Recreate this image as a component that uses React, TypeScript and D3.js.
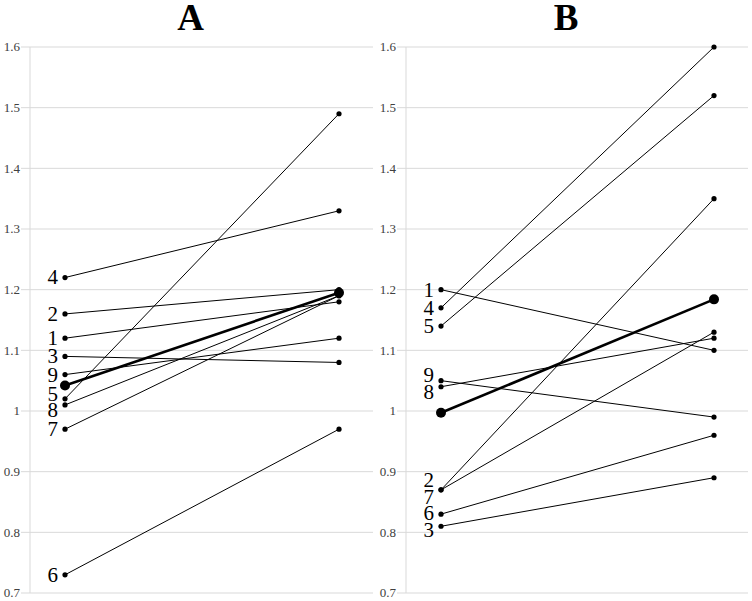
import React from "react";
import * as d3 from "d3";

const subjects = ["1", "2", "3", "4", "5", "6", "7", "8", "9"];
const timePoints = ["pre", "post"];
const yTicks = [0.7, 0.8, 0.9, 1.0, 1.1, 1.2, 1.3, 1.4, 1.5, 1.6];

const panelATitle = "A";
const panelAPre = [1.12, 1.16, 1.09, 1.22, 1.02, 0.73, 0.97, 1.01, 1.06];
const panelAPost = [1.18, 1.2, 1.08, 1.33, 1.49, 0.97, 1.19, 1.19, 1.12];
const panelAMean = [1.042, 1.195];

const panelBTitle = "B";
const panelBPre = [1.2, 0.87, 0.81, 1.17, 1.14, 0.83, 0.87, 1.04, 1.05];
const panelBPost = [1.1, 1.35, 0.89, 1.6, 1.52, 0.96, 1.13, 1.12, 0.99];
const panelBMean = [0.997, 1.184];

const W = 752;
const H = 601;
const TOP = 47;
const BOTTOM = 593;
const SERIF = "'Liberation Serif', 'Times New Roman', serif";

function spreadLabels(ys: number[], gap: number): number[] {
  const order = ys.map((y, i) => ({ y, i })).sort((a, b) => a.y - b.y);
  let groups: { members: { y: number; i: number }[]; center: number }[] = order.map((o) => ({
    members: [o],
    center: o.y,
  }));
  let changed = true;
  while (changed) {
    changed = false;
    for (let k = 0; k < groups.length - 1; k++) {
      const g1 = groups[k];
      const g2 = groups[k + 1];
      const g1Bottom = g1.center + ((g1.members.length - 1) / 2) * gap;
      const g2Top = g2.center - ((g2.members.length - 1) / 2) * gap;
      if (g2Top - g1Bottom < gap) {
        const members = [...g1.members, ...g2.members];
        const center = d3.mean(members, (m) => m.y) as number;
        groups.splice(k, 2, { members, center });
        changed = true;
        break;
      }
    }
  }
  const out = new Array(ys.length).fill(0);
  groups.forEach((g) => {
    g.members.forEach((m, j) => {
      out[m.i] = g.center + (j - (g.members.length - 1) / 2) * gap;
    });
  });
  return out;
}

function Panel(props: {
  title: string;
  pre: number[];
  post: number[];
  mean: number[];
  axisX: number;
  right: number;
}) {
  const { title, pre, post, mean, axisX, right } = props;
  const y = d3.scaleLinear().domain([0.7, 1.6]).range([BOTTOM, TOP]);
  const x = d3
    .scalePoint<string>()
    .domain(timePoints)
    .range([axisX + 35, right - 34]);
  const line = d3
    .line<number>()
    .x((_, i) => x(timePoints[i]) as number)
    .y((d) => y(d));
  const labelYs = spreadLabels(pre.map((v) => y(v)), 16.5);
  const fmt = (v: number) => d3.format("~g")(+v.toFixed(1));
  return (
    <g>
      <text
        x={(axisX + right) / 2 - 11}
        y={30}
        textAnchor="middle"
        fontFamily={SERIF}
        fontWeight="bold"
        fontSize={37}
        fill="#000"
      >
        {title}
      </text>
      {yTicks.map((t) => (
        <g key={t}>
          <line x1={axisX - 9} x2={right} y1={y(t)} y2={y(t)} stroke="#d9d9d9" strokeWidth={1} />
          <text
            x={axisX - 10}
            y={y(t)}
            dy="0.33em"
            textAnchor="end"
            fontFamily={SERIF}
            fontSize={13}
            fill="#404040"
          >
            {fmt(t)}
          </text>
        </g>
      ))}
      <line x1={axisX} x2={axisX} y1={TOP} y2={BOTTOM} stroke="#d9d9d9" strokeWidth={1} />
      {subjects.map((s, i) => (
        <g key={s}>
          <path d={line([pre[i], post[i]]) as string} fill="none" stroke="#000" strokeWidth={1} />
          <circle cx={x("pre")} cy={y(pre[i])} r={2.6} fill="#000" />
          <circle cx={x("post")} cy={y(post[i])} r={2.6} fill="#000" />
          <text
            x={(x("pre") as number) - 7}
            y={labelYs[i]}
            dy="0.33em"
            textAnchor="end"
            fontFamily={SERIF}
            fontSize={21}
            fill="#000"
          >
            {s}
          </text>
        </g>
      ))}
      <path d={line(mean) as string} fill="none" stroke="#000" strokeWidth={2.6} />
      <circle cx={x("pre")} cy={y(mean[0])} r={5} fill="#000" />
      <circle cx={x("post")} cy={y(mean[1])} r={5} fill="#000" />
    </g>
  );
}

export default function App() {
  return (
    <svg
      width={W}
      height={H}
      style={{ position: "absolute", left: 0, top: 0, background: "#fff" }}
    >
      <rect x={0} y={0} width={W} height={H} fill="#fff" />
      <Panel title={panelATitle} pre={panelAPre} post={panelAPost} mean={panelAMean} axisX={30} right={373} />
      <Panel title={panelBTitle} pre={panelBPre} post={panelBPost} mean={panelBMean} axisX={406} right={748} />
    </svg>
  );
}
